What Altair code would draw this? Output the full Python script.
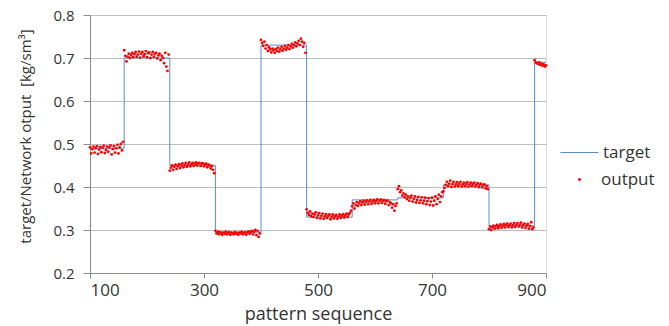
import altair as alt
import pandas as pd

# segment boundaries (pattern index) and target levels
boundaries = [100, 160, 240, 320, 400, 480, 560, 640, 720, 800, 880, 900]
target_levels = [0.49, 0.70, 0.45, 0.295, 0.73, 0.33, 0.37, 0.375, 0.405, 0.31, 0.69]

# network output read per segment, every 2nd pattern
out_a = [0.492, 0.478, 0.488, 0.494, 0.480, 0.490, 0.495, 0.477, 0.487, 0.493, 0.481, 0.491, 0.496, 0.479, 0.486,
         0.494, 0.482, 0.492, 0.497, 0.476, 0.488, 0.495, 0.480, 0.490, 0.498, 0.478, 0.492, 0.500, 0.485, 0.505]
out_b = [0.718, 0.705, 0.692, 0.703, 0.710, 0.700, 0.707, 0.712, 0.702, 0.709, 0.714, 0.703, 0.708, 0.715, 0.701,
         0.710, 0.714, 0.704, 0.709, 0.716, 0.702, 0.711, 0.713, 0.700, 0.708, 0.714, 0.703, 0.710, 0.712, 0.699,
         0.706, 0.710, 0.695, 0.705, 0.700, 0.688, 0.712, 0.680, 0.670, 0.708]
out_c = [0.438, 0.445, 0.450, 0.440, 0.447, 0.452, 0.442, 0.448, 0.453, 0.444, 0.450, 0.455, 0.446, 0.451, 0.456,
         0.447, 0.452, 0.457, 0.448, 0.453, 0.456, 0.449, 0.454, 0.457, 0.450, 0.455, 0.456, 0.449, 0.454, 0.455,
         0.448, 0.453, 0.454, 0.446, 0.452, 0.450, 0.443, 0.449, 0.440, 0.432]
out_d = [0.298, 0.292, 0.296, 0.290, 0.295, 0.293, 0.289, 0.294, 0.291, 0.296, 0.290, 0.293, 0.295, 0.289, 0.294,
         0.292, 0.290, 0.295, 0.291, 0.293, 0.289, 0.294, 0.292, 0.296, 0.290, 0.293, 0.295, 0.289, 0.294, 0.297,
         0.291, 0.295, 0.298, 0.290, 0.296, 0.300, 0.288, 0.298, 0.284, 0.292]
out_e = [0.742, 0.735, 0.728, 0.738, 0.722, 0.730, 0.716, 0.725, 0.720, 0.713, 0.722, 0.718, 0.712, 0.721, 0.716,
         0.724, 0.715, 0.720, 0.726, 0.717, 0.722, 0.728, 0.719, 0.724, 0.730, 0.721, 0.727, 0.733, 0.724, 0.730,
         0.736, 0.727, 0.734, 0.740, 0.730, 0.745, 0.738, 0.726, 0.735, 0.712]
out_f = [0.348, 0.340, 0.335, 0.343, 0.332, 0.338, 0.330, 0.336, 0.341, 0.328, 0.334, 0.339, 0.327, 0.333, 0.338,
         0.326, 0.332, 0.337, 0.328, 0.333, 0.336, 0.325, 0.331, 0.336, 0.327, 0.332, 0.335, 0.326, 0.331, 0.336,
         0.328, 0.333, 0.337, 0.329, 0.334, 0.338, 0.330, 0.336, 0.340, 0.345]
out_g = [0.355, 0.362, 0.350, 0.358, 0.365, 0.356, 0.362, 0.367, 0.358, 0.364, 0.368, 0.359, 0.365, 0.369, 0.360,
         0.366, 0.370, 0.361, 0.366, 0.370, 0.362, 0.367, 0.371, 0.362, 0.368, 0.371, 0.363, 0.368, 0.370, 0.361,
         0.367, 0.369, 0.358, 0.365, 0.362, 0.352, 0.360, 0.345, 0.356, 0.362]
out_h = [0.395, 0.402, 0.388, 0.392, 0.380, 0.385, 0.376, 0.382, 0.372, 0.378, 0.368, 0.375, 0.380, 0.366, 0.372,
         0.378, 0.364, 0.370, 0.377, 0.363, 0.369, 0.376, 0.362, 0.368, 0.375, 0.360, 0.367, 0.374, 0.358, 0.366,
         0.375, 0.357, 0.368, 0.378, 0.360, 0.372, 0.382, 0.365, 0.378, 0.388]
out_i = [0.390, 0.398, 0.405, 0.412, 0.402, 0.408, 0.415, 0.400, 0.407, 0.412, 0.401, 0.406, 0.411, 0.402, 0.407,
         0.412, 0.401, 0.406, 0.410, 0.402, 0.407, 0.411, 0.401, 0.406, 0.410, 0.402, 0.407, 0.410, 0.401, 0.405,
         0.409, 0.400, 0.405, 0.408, 0.399, 0.404, 0.406, 0.397, 0.402, 0.395]
out_j = [0.302, 0.308, 0.300, 0.306, 0.310, 0.303, 0.308, 0.312, 0.304, 0.309, 0.313, 0.305, 0.310, 0.314, 0.306,
         0.311, 0.315, 0.307, 0.311, 0.315, 0.306, 0.311, 0.316, 0.307, 0.312, 0.316, 0.308, 0.312, 0.317, 0.306,
         0.311, 0.315, 0.305, 0.310, 0.314, 0.303, 0.309, 0.318, 0.302, 0.306]
out_k = [0.695, 0.690, 0.688, 0.686, 0.690, 0.684, 0.687, 0.682, 0.685, 0.680, 0.683]
output_segments = [out_a, out_b, out_c, out_d, out_e, out_f, out_g, out_h, out_i, out_j, out_k]

x_ticks = [100, 300, 500, 700, 900]
y_ticks = [0.2, 0.3, 0.4, 0.5, 0.6, 0.7, 0.8]

# build tables
t_rows = []
o = 0
for i, lvl in enumerate(target_levels):
    for xv in (boundaries[i], boundaries[i + 1]):
        t_rows.append({"pattern": xv, "value": lvl, "order": o, "series": "target"})
        o += 1
tdf = pd.DataFrame(t_rows)

o_rows = []
for i, seg in enumerate(output_segments):
    for j, v in enumerate(seg):
        o_rows.append({"pattern": boundaries[i] + 2 * j, "value": v, "series": "output"})
odf = pd.DataFrame(o_rows)

FONT = "Open Sans"
TXT = "#333333"
AX = "#8C8C8C"

xenc = alt.X("pattern:Q", scale=alt.Scale(domain=[100, 900], nice=False, zero=False),
             axis=alt.Axis(values=x_ticks, grid=False, title="pattern sequence", domainColor=AX,
                           tickColor=AX, tickSize=5, labelFontSize=17, labelColor=TXT, labelPadding=4,
                           titleFontSize=18, titleFontWeight="normal", titleColor=TXT, titlePadding=7,
                           labelFont=FONT, titleFont=FONT))
yenc = alt.Y("value:Q", scale=alt.Scale(domain=[0.2, 0.8], nice=False, zero=False),
             axis=alt.Axis(values=y_ticks, format=".1f", grid=True, gridColor="#BDBDBD", gridWidth=1.2,
                           domainColor=AX, tickColor=AX, tickSize=7, labelFontSize=15, labelColor=TXT,
                           labelPadding=9, title="target/Network otput\u00a0 [kg/sm³]", titleFontSize=15,
                           titleFontWeight="normal", titleColor=TXT, titleAngle=-90, titleAlign="center",
                           titleBaseline="middle", titleX=-65, titleY=121, labelFont=FONT, titleFont=FONT))

line = alt.Chart(tdf).mark_line(strokeWidth=1).encode(
    x=xenc, y=yenc, order="order:Q",
    color=alt.Color("series:N", scale=alt.Scale(domain=["target"], range=["#5B8DCB"]),
                    legend=alt.Legend(title=None, orient="none", legendX=470, legendY=118,
                                      symbolType="stroke", symbolSize=1444, symbolStrokeWidth=1,
                                      labelFontSize=17, labelColor=TXT, labelFont=FONT, labelOffset=4)),
)
points = alt.Chart(odf).mark_circle(size=8, opacity=1).encode(
    x=xenc, y=yenc,
    color=alt.Color("series:N", scale=alt.Scale(domain=["output"], range=["#FF0000"]),
                    legend=alt.Legend(title=None, orient="none", legendX=481, legendY=156,
                                      symbolType="circle", symbolSize=8, labelFontSize=17,
                                      labelColor=TXT, labelFont=FONT, labelOffset=13)),
)

chart = alt.layer(line, points).resolve_scale(color="independent").properties(
    width=456, height=258, autosize="none",
    padding={"left": 90, "top": 15, "right": 123, "bottom": 53},
).configure_view(stroke=None).configure(background="white")

chart.save("out.html", embed_options={"renderer": "svg", "actions": False})
